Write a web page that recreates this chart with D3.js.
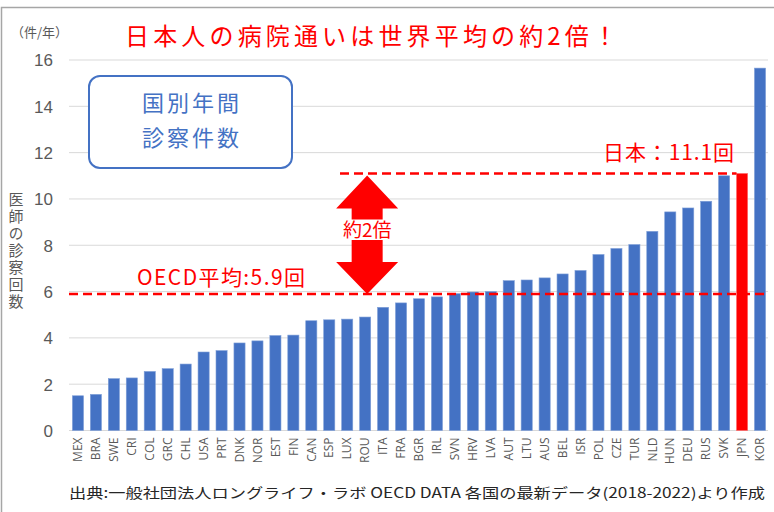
<!DOCTYPE html>
<html>
<head>
<meta charset="utf-8">
<script src="https://cdn.jsdelivr.net/npm/d3@7"></script>
<style>
  body { margin: 0; background: #fff; }
  svg { display: block; font-family: "Noto Sans CJK JP", "Noto Sans", sans-serif; }
</style>
</head>
<body>
<div id="chart"></div>
<script>
// data
var countries = ["MEX","BRA","SWE","CRI","COL","GRC","CHL","USA","PRT","DNK","NOR","EST","FIN",
  "CAN","ESP","LUX","ROU","ITA","FRA","BGR","IRL","SVN","HRV","LVA","AUT","LTU","AUS","BEL",
  "ISR","POL","CZE","TUR","NLD","HUN","DEU","RUS","SVK","JPN","KOR"];
var visits = [1.5,1.56,2.24,2.27,2.55,2.67,2.87,3.39,3.45,3.78,3.87,4.1,4.12,
  4.74,4.78,4.81,4.9,5.32,5.51,5.69,5.77,5.91,5.98,6.0,6.47,6.5,6.59,6.76,
  6.91,7.6,7.86,8.03,8.6,9.44,9.61,9.9,11.0,11.1,15.65];
var yTicks = [0,2,4,6,8,10,12,14,16];
var oecdAvg = 5.9;
var japanValue = 11.1;
var highlight = "JPN";

var width = 774, height = 512;
var margin = {top: 60, right: 5, bottom: 81.5, left: 69};

var svg = d3.select("#chart").append("svg")
    .attr("width", width)
    .attr("height", height);

// outer frame (left + top only visible)
svg.append("path")
    .attr("d", "M1.5,512 L1.5,7.5 L774,7.5")
    .attr("fill", "none")
    .attr("stroke", "#a6a6a6")
    .attr("stroke-width", 1.5);

var x = d3.scaleBand()
    .domain(countries)
    .range([margin.left, width - margin.right])
    .paddingInner(0.38)
    .paddingOuter(0.19);

var y = d3.scaleLinear()
    .domain([0, 16])
    .range([height - margin.bottom, margin.top]);

// gridlines
svg.append("g").selectAll("line")
    .data(yTicks)
    .enter().append("line")
    .attr("x1", margin.left)
    .attr("x2", width - margin.right - 1)
    .attr("y1", function(d){ return y(d); })
    .attr("y2", function(d){ return y(d); })
    .attr("stroke", "#d9d9d9")
    .attr("stroke-width", 1);

// y axis labels
var yAxis = d3.axisLeft(y).tickValues(yTicks).tickSize(0).tickPadding(0);
svg.append("g")
    .attr("transform", "translate(53,0)")
    .call(yAxis)
    .call(function(g){ g.select(".domain").remove(); })
    .selectAll("text")
    .attr("font-family", "'Liberation Sans', Arial, sans-serif")
    .attr("font-size", 17)
    .attr("fill", "#595959")
    .attr("dy", "0.35em");

// bars
svg.append("g").selectAll(".bar")
    .data(countries)
    .enter().append("rect")
    .attr("class", "bar")
    .attr("x", function(d){ return x(d); })
    .attr("width", x.bandwidth())
    .attr("y", function(d, i){ return y(visits[i]); })
    .attr("height", function(d, i){ return y(0) - y(visits[i]); })
    .attr("fill", function(d){ return d === highlight ? "#ff0000" : "#4472c4"; })
    .attr("stroke", function(d){ return d === highlight ? "#ff6a6a" : "#7f9fd8"; })
    .attr("stroke-width", 0.6);

// x axis labels (rotated)
var xAxis = d3.axisBottom(x).tickSize(0).tickPadding(0);
svg.append("g")
    .attr("transform", "translate(0," + (y(0) + 7) + ")")
    .call(xAxis)
    .call(function(g){ g.select(".domain").remove(); })
    .selectAll("text")
    .attr("font-family", "'Open Sans', sans-serif")
    .attr("font-size", 12)
    .attr("fill", "#595959")
    .attr("text-anchor", "end")
    .attr("transform", "rotate(-90)")
    .attr("x", 0)
    .attr("y", 0)
    .attr("dy", "0.35em");

// OECD average line
svg.append("line")
    .attr("x1", margin.left)
    .attr("x2", width - margin.right)
    .attr("y1", y(oecdAvg))
    .attr("y2", y(oecdAvg))
    .attr("stroke", "#ff0000")
    .attr("stroke-width", 2.5)
    .attr("stroke-dasharray", "9,5");

// Japan line
svg.append("line")
    .attr("x1", 340)
    .attr("x2", x(highlight))
    .attr("y1", y(japanValue))
    .attr("y2", y(japanValue))
    .attr("stroke", "#ff0000")
    .attr("stroke-width", 2.5)
    .attr("stroke-dasharray", "9,5");

// double arrow
var cx = x("ROU") + x.bandwidth() / 2 + 2;
var yTop = y(japanValue) + 2, yBot = y(oecdAvg);
var up = [[cx, yTop], [cx + 31, yTop + 33], [cx + 15.5, yTop + 33], [cx + 15.5, yTop + 44],
  [cx - 15.5, yTop + 44], [cx - 15.5, yTop + 33], [cx - 31, yTop + 33]];
var down = [[cx - 15.5, yBot - 54], [cx + 15.5, yBot - 54], [cx + 15.5, yBot - 32], [cx + 31, yBot - 32],
  [cx, yBot], [cx - 31, yBot - 32], [cx - 15.5, yBot - 32]];
svg.append("g").selectAll("polygon")
    .data([up, down])
    .enter().append("polygon")
    .attr("points", function(d){ return d.join(" "); })
    .attr("fill", "#ff0000");

svg.append("text")
    .attr("x", cx)
    .attr("y", (yTop + 44 + yBot - 54) / 2)
    .attr("dy", "0.36em")
    .attr("text-anchor", "middle")
    .attr("font-size", 19)
    .attr("fill", "#ff0000")
    .text("約2倍");

// annotations
svg.append("text")
    .attr("x", 137)
    .attr("y", 285)
    .attr("font-size", 21)
    .attr("fill", "#ff0000")
    .attr("textLength", 168)
    .attr("lengthAdjust", "spacing")
    .text("OECD平均:5.9回");

svg.append("text")
    .attr("x", 603)
    .attr("y", 160)
    .attr("font-size", 21)
    .attr("fill", "#ff0000")
    .attr("textLength", 131)
    .attr("lengthAdjust", "spacing")
    .text("日本：11.1回");

// title
svg.append("text")
    .attr("x", 125)
    .attr("y", 45)
    .attr("font-size", 24)
    .attr("fill", "#ff0000")
    .attr("textLength", 492)
    .attr("lengthAdjust", "spacing")
    .text("日本人の病院通いは世界平均の約2倍！");

// unit
svg.append("text")
    .attr("x", 11)
    .attr("y", 37)
    .attr("font-size", 13)
    .attr("fill", "#595959")
    .text("（件/年）");

// y title, vertical
svg.append("text")
    .attr("x", 16)
    .attr("y", 192)
    .style("writing-mode", "vertical-rl")
    .attr("font-size", 15)
    .attr("letter-spacing", 2)
    .attr("fill", "#595959")
    .text("医師の診察回数");

// legend box
svg.append("rect")
    .attr("x", 89)
    .attr("y", 76)
    .attr("width", 203)
    .attr("height", 92)
    .attr("rx", 11)
    .attr("fill", "#fff")
    .attr("stroke", "#4472c4")
    .attr("stroke-width", 2);

svg.append("g").selectAll("text")
    .data(["国別年間", "診察件数"])
    .enter().append("text")
    .attr("x", 192)
    .attr("y", function(d, i){ return 103 + i * 35; })
    .attr("dy", "0.36em")
    .attr("text-anchor", "middle")
    .attr("font-size", 22)
    .attr("letter-spacing", 3)
    .attr("fill", "#4472c4")
    .text(function(d){ return d; });

// source
svg.append("text")
    .attr("x", 69)
    .attr("y", 498)
    .attr("font-size", 14)
    .attr("fill", "#262626")
    .attr("textLength", 696)
    .attr("lengthAdjust", "spacingAndGlyphs")
    .text("出典:一般社団法人ロングライフ・ラボ OECD DATA 各国の最新データ(2018-2022)より作成");
</script>
</body>
</html>
